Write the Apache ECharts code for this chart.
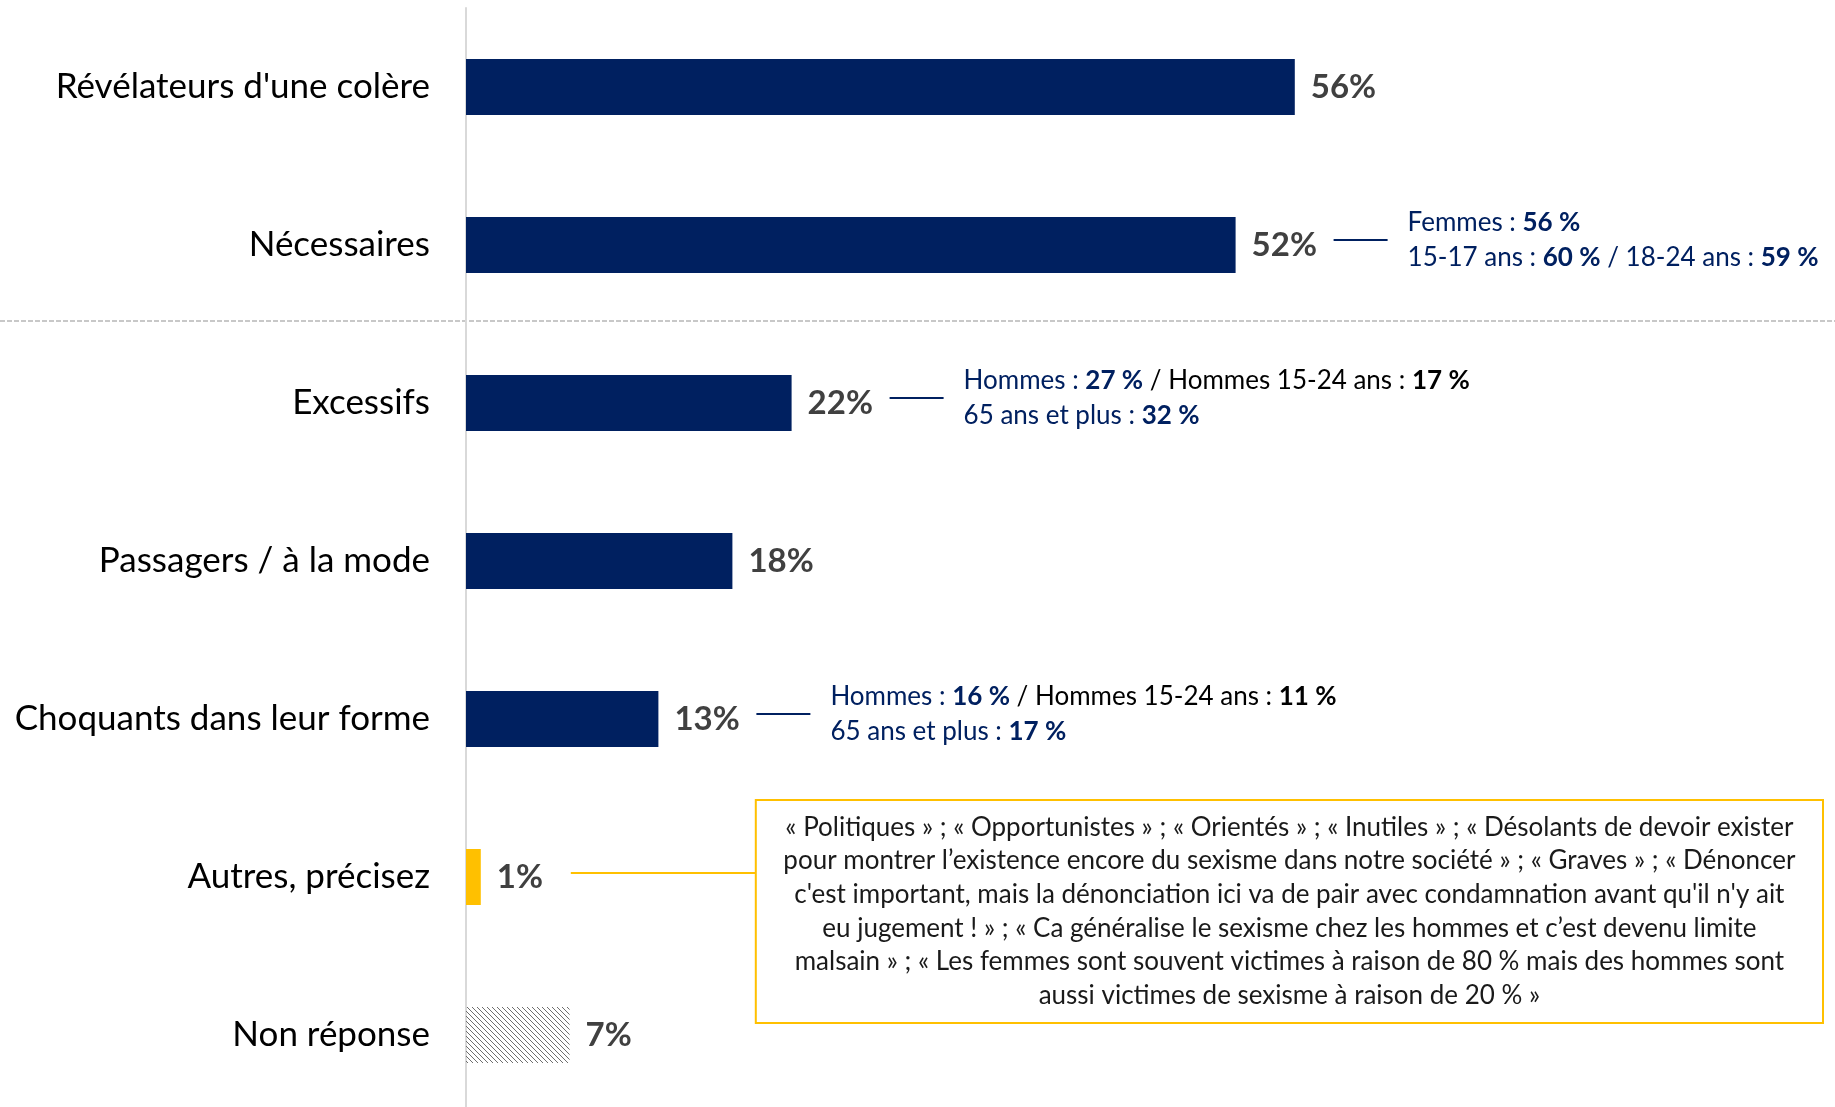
<!DOCTYPE html>
<html>
<head>
<meta charset="utf-8">
<script src="https://cdn.jsdelivr.net/npm/echarts@6/dist/echarts.min.js"></script>
<style>
  html, body { margin: 0; padding: 0; background: #fff; }
  #chart { width: 1835px; height: 1107px; }
</style>
</head>
<body>
<div id="chart"></div>
<script>
// données
const categories = ['Révélateurs d\'une colère', 'Nécessaires', 'Excessifs', 'Passagers / à la mode',
  'Choquants dans leur forme', 'Autres, précisez', 'Non réponse'];
const values = [56, 52, 22, 18, 13, 1, 7];

// notes à droite des barres (index de la catégorie -> texte riche)
const notes = [
  { idx: 1, text: '{n|Femmes : }{nb|56 %}\n{n|15-17 ans : }{nb|60 %}{n| / 18-24 ans : }{nb|59 %}' },
  { idx: 2, text: '{n|Hommes : }{nb|27 %}{k| / Hommes 15-24 ans : }{kb|17 %}\n{n|65 ans et plus : }{nb|32 %}' },
  { idx: 4, text: '{n|Hommes : }{nb|16 %}{k| / Hommes 15-24 ans : }{kb|11 %}\n{n|65 ans et plus : }{nb|17 %}' }
];
const autresIdx = 5;
const autresLines = [
  '« Politiques » ; « Opportunistes » ; « Orientés » ; « Inutiles » ; « Désolants de devoir exister',
  'pour montrer l’existence encore du sexisme dans notre société » ; « Graves » ; « Dénoncer',
  'c\'est important, mais la dénonciation ici va de pair avec condamnation avant qu\'il n\'y ait',
  'eu jugement ! » ; « Ca généralise le sexisme chez les hommes et c’est devenu limite',
  'malsain » ; « Les femmes sont souvent victimes à raison de 80 % mais des hommes sont',
  'aussi victimes de sexisme à raison de 20 % »'
];

const NAVY = '#002060';
const FONT = 'Lato';

// hachures pour "Non réponse"
const hatch = document.createElement('canvas');
hatch.width = 5; hatch.height = 5;
const hc = hatch.getContext('2d');
hc.strokeStyle = '#6e6e6e';
hc.lineWidth = 1;
hc.beginPath();
hc.moveTo(-1, -1); hc.lineTo(6, 6);
hc.moveTo(-1, 4); hc.lineTo(1, 6);
hc.moveTo(4, -1); hc.lineTo(6, 1);
hc.stroke();

function barColor(i) {
  if (i === autresIdx) return '#FFC000';
  if (i === categories.length - 1) return { image: hatch, repeat: 'repeat' };
  return NAVY;
}

const chart = echarts.init(document.getElementById('chart'), null, { renderer: 'canvas' });

chart.setOption({
  animation: false,
  grid: { left: 466, top: 8, right: 0, height: 1106, containLabel: false, outerBoundsMode: 'none' },
  xAxis: { type: 'value', min: 0, max: 92.5, show: false },
  yAxis: {
    type: 'category',
    data: categories,
    inverse: true,
    axisLine: { show: true, lineStyle: { color: '#d9d9d9', width: 2 } },
    axisTick: { show: false },
    axisLabel: { fontFamily: FONT, fontSize: 35, color: '#000', margin: 36 }
  },
  series: [{
    type: 'bar',
    barWidth: 56,
    data: values.map((v, i) => ({ value: v, itemStyle: { color: barColor(i) } })),
    label: {
      show: true,
      position: 'right',
      distance: 16,
      formatter: '{c}%',
      fontFamily: FONT,
      fontSize: 33,
      fontWeight: 'bold',
      color: '#404040'
    }
  }]
});

// annotations placées à partir des positions des barres
const graphics = [];
const W = chart.getWidth();

// ligne pointillée de séparation entre "Nécessaires" et "Excessifs"
const y1 = chart.convertToPixel({ gridIndex: 0 }, [0, categories[1]])[1];
const y2 = chart.convertToPixel({ gridIndex: 0 }, [0, categories[2]])[1];
graphics.push({
  type: 'line', z: 0,
  shape: { x1: 0, y1: (y1 + y2) / 2 - 3, x2: W, y2: (y1 + y2) / 2 - 3 },
  style: { stroke: '#c8c8c8', lineWidth: 2, lineDash: [5, 2] }
});

const NOTE_SIZE = 26;
const rich = {
  n: { fontFamily: FONT, fontSize: NOTE_SIZE, fill: NAVY },
  nb: { fontFamily: FONT, fontSize: NOTE_SIZE, fill: NAVY, fontWeight: 'bold' },
  k: { fontFamily: FONT, fontSize: NOTE_SIZE, fill: '#000' },
  kb: { fontFamily: FONT, fontSize: NOTE_SIZE, fill: '#000', fontWeight: 'bold' }
};

notes.forEach(note => {
  const p = chart.convertToPixel({ gridIndex: 0 }, [values[note.idx], categories[note.idx]]);
  const x1 = p[0] + 98, x2 = x1 + 54, y = p[1] - 5;
  graphics.push({
    type: 'line',
    shape: { x1: x1, y1: y, x2: x2, y2: y },
    style: { stroke: NAVY, lineWidth: 2 }
  });
  graphics.push({
    type: 'text',
    x: x2 + 20, y: y,
    style: {
      text: note.text, rich: rich,
      fontFamily: FONT, fontSize: NOTE_SIZE, lineHeight: 35, fill: NAVY,
      align: 'left', verticalAlign: 'middle'
    }
  });
});

// encadré "Autres, précisez"
const pa = chart.convertToPixel({ gridIndex: 0 }, [values[autresIdx], categories[autresIdx]]);
const lx1 = pa[0] + 90, boxX = lx1 + 185, ly = pa[1] - 4;
const boxY = pa[1] - 77, boxW = W - 12 - boxX, boxH = 223;
graphics.push({
  type: 'line',
  shape: { x1: lx1, y1: ly, x2: boxX, y2: ly },
  style: { stroke: '#FFC000', lineWidth: 2 }
});
graphics.push({
  type: 'rect',
  shape: { x: boxX, y: boxY, width: boxW, height: boxH },
  style: { fill: '#fff', stroke: '#FFC000', lineWidth: 2 }
});
graphics.push({
  type: 'text',
  x: boxX + boxW / 2, y: boxY + boxH / 2,
  style: {
    text: autresLines.join('\n'),
    fontFamily: FONT, fontSize: 26, lineHeight: 33.6,
    fill: '#1a1a1a', align: 'center', verticalAlign: 'middle'
  }
});

chart.setOption({ graphic: graphics });
</script>
</body>
</html>
